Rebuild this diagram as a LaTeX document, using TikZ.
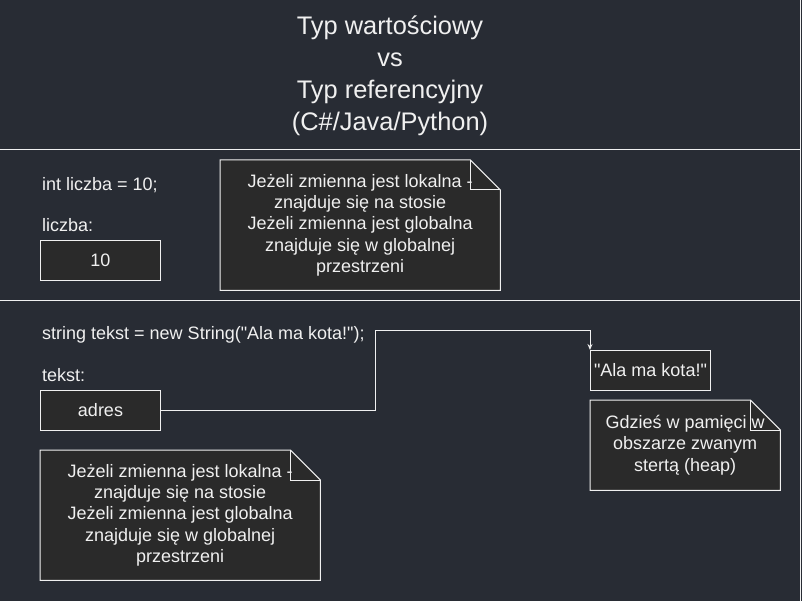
\documentclass[tikz,border=0pt]{standalone}
\usepackage{fontspec}
\setmainfont{Liberation Sans}[Ligatures=NoCommon]
\usetikzlibrary{arrows.meta}
\definecolor{bgc}{HTML}{282C34}
\definecolor{boxc}{HTML}{2A2A2A}
\definecolor{linec}{HTML}{F0F0F0}
\definecolor{txtc}{HTML}{F0F0F0}
\pgfdeclarelayer{bottom}
\pgfdeclarelayer{background}
\pgfsetlayers{bottom,background,main}
\tikzset{
  lbl/.style={text=txtc, font=\fontsize{18}{21.6}\selectfont, inner sep=0pt, anchor=west},
  valbox/.style={draw=linec, fill=boxc, line width=1pt, text=txtc, font=\fontsize{18}{21.6}\selectfont,
    minimum width=120pt, minimum height=40pt, inner sep=0pt, anchor=north west},
  notebox/.style={text=txtc, font=\fontsize{18}{21.25}\selectfont, align=center, inner sep=0pt, anchor=north west},
  noteline/.style={draw=linec, line width=1pt, fill=boxc, line join=miter},
  foldline/.style={draw=linec, line width=1pt},
  sepline/.style={draw=linec, line width=1pt},
  conn/.style={draw=linec, line width=1pt, -{Stealth[length=6pt,width=5pt]}}
}
\newcommand{\notefold}[1]{%
  \begin{pgfonlayer}{background}
  \path[noteline] (#1.north west) -- ([xshift=-30pt]#1.north east) -- ([yshift=-30pt]#1.north east) -- (#1.south east) -- (#1.south west) -- cycle;
  \end{pgfonlayer}
  \path[foldline] ([xshift=-30pt]#1.north east) -- ([xshift=-30pt,yshift=-30pt]#1.north east) -- ([yshift=-30pt]#1.north east);
}
\begin{document}
\begin{tikzpicture}[x=1pt,y=-1pt]
\begin{pgfonlayer}{bottom}
\fill[bgc] (0,0) rectangle (802,601);
\end{pgfonlayer}
\useasboundingbox (0,0) rectangle (802,601);

% separators
\path[sepline] (0,150) -- (800,150);
\path[sepline] (0,300) -- (800,300);
\path[sepline] (800,0) -- (800,601);

% title
\node[text=txtc, font=\fontsize{25.4}{32}\selectfont, align=center, inner sep=0pt] (title) at (390,76)
  {Typ wartościowy\\vs\\Typ referencyjny\\(C\#/Java/Python)};

% section 1
\node[lbl] (decl1) at (42,185) {int liczba = 10;};
\node[lbl] (var1) at (42,225) {liczba:};
\node[valbox] (v10) at (40,240) {10};
\node[notebox, minimum width=280pt, minimum height=130pt] (n1) at (220,160)
  {Jeżeli zmienna jest lokalna -\\znajduje się na stosie\\Jeżeli zmienna jest globalna\\znajduje się w globalnej\\przestrzeni};
\notefold{n1}

% section 2
\node[lbl] (decl2) at (42,335) {string tekst = new String(\textquotedbl Ala ma kota!\textquotedbl);};
\node[lbl] (var2) at (42,375) {tekst:};
\node[valbox] (adres) at (40,390) {adres};
\node[valbox] (ala) at (590,350) {\textquotedbl Ala ma kota!\textquotedbl};
\node[notebox, minimum width=190pt, minimum height=90pt] (heap) at (590,400)
  {Gdzieś w pamięci w\\obszarze zwanym\\stertą (heap)};
\notefold{heap}
\node[notebox, minimum width=280pt, minimum height=130pt] (n2) at (40,450)
  {Jeżeli zmienna jest lokalna -\\znajduje się na stosie\\Jeżeli zmienna jest globalna\\znajduje się w globalnej\\przestrzeni};
\notefold{n2}

% connector
\coordinate (bend) at (375,330);
\path[conn] (adres.east) -| (bend) -| (ala.north west);
\end{tikzpicture}
\end{document}
